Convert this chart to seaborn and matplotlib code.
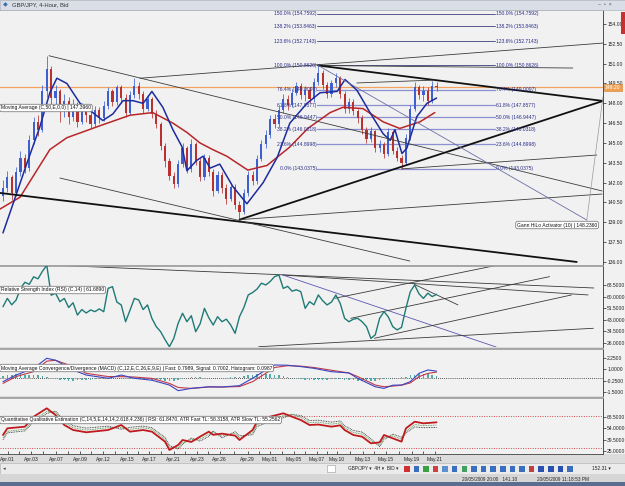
import numpy as np
import seaborn as sns
import matplotlib.pyplot as plt
from matplotlib.patches import Rectangle

sns.set_style("white")
plt.rcParams['font.family'] = ['Liberation Sans', 'DejaVu Sans']

# ---- price data (4h candles, bar index 0..99) ----
open_ = [141.0, 141.6, 142.4, 141.2, 142.8, 143.9, 143.1, 145.2, 146.6, 146.0,
         148.9, 150.6, 148.4, 148.9, 147.4, 148.2, 147.0, 147.9, 146.6, 147.6,
         147.1, 146.4, 147.5, 146.9, 147.8, 148.9, 148.1, 149.2, 148.4, 147.3,
         148.6, 149.3, 148.7, 147.6, 148.3, 147.2, 146.4, 144.8, 143.6, 142.5,
         141.9, 143.4, 144.6, 143.0, 144.9, 143.6, 142.4, 143.9, 142.8, 141.4,
         142.6, 141.6, 140.8, 141.7, 140.3, 139.8, 141.2, 142.6, 142.1, 143.8,
         144.9, 145.6, 146.8, 146.4, 147.5, 148.3, 147.9, 148.8, 149.3, 148.6,
         149.0, 148.3, 149.6, 150.3, 149.4, 148.7, 149.5, 149.9, 148.7, 147.6,
         148.1, 147.4, 146.9, 146.0, 145.3, 145.9, 144.6, 144.9, 144.2, 145.8,
         144.4, 143.9, 143.5, 145.4, 147.6, 149.2, 148.6, 148.9, 148.2, 149.3]
close = [141.6, 142.4, 141.2, 142.8, 143.9, 143.1, 145.2, 146.6, 146.0, 148.9,
         150.6, 148.4, 148.9, 147.4, 148.2, 147.0, 147.9, 146.6, 147.6, 147.1,
         146.4, 147.5, 146.9, 147.8, 148.9, 148.1, 149.2, 148.4, 147.3, 148.6,
         149.3, 148.7, 147.6, 148.3, 147.2, 146.4, 144.8, 143.6, 142.5, 141.9,
         143.4, 144.6, 143.0, 144.9, 143.6, 142.4, 143.9, 142.8, 141.4, 142.6,
         141.6, 140.8, 141.7, 140.3, 139.8, 141.2, 142.6, 142.1, 143.8, 144.9,
         145.6, 146.8, 146.4, 147.5, 148.3, 147.9, 148.8, 149.3, 148.6, 149.0,
         148.3, 149.6, 150.3, 149.4, 148.7, 149.5, 149.9, 148.7, 147.6, 148.1,
         147.4, 146.9, 146.0, 145.3, 145.9, 144.6, 144.9, 144.2, 145.8, 144.4,
         143.9, 143.5, 145.4, 147.6, 149.2, 148.6, 148.9, 148.2, 149.3, 149.2]
high = [142.2, 142.9, 142.6, 143.2, 144.4, 144.2, 145.6, 147.0, 147.1, 149.4,
        151.6, 150.8, 149.4, 149.1, 148.7, 148.5, 148.3, 148.1, 148.0, 147.9,
        147.4, 147.8, 147.7, 148.2, 149.2, 149.1, 149.4, 149.4, 148.7, 148.9,
        149.9, 149.6, 148.9, 148.6, 148.5, 147.5, 146.6, 145.0, 143.9, 142.8,
        143.7, 145.0, 144.8, 145.3, 145.1, 143.9, 144.2, 144.1, 143.0, 142.9,
        142.8, 141.9, 142.0, 141.9, 140.6, 141.5, 142.9, 142.9, 144.1, 145.2,
        146.0, 147.1, 147.2, 147.8, 148.7, 148.6, 149.1, 149.6, 149.5, 149.3,
        149.2, 149.9, 150.86, 150.5, 149.6, 149.8, 150.3, 150.1, 148.9, 148.4,
        148.3, 147.6, 147.1, 146.2, 146.2, 146.0, 145.2, 145.1, 146.1, 146.0,
        144.7, 144.1, 145.7, 147.9, 149.6, 149.4, 149.3, 149.2, 149.7, 149.6]
low = [140.6, 141.3, 140.7, 141.0, 142.5, 142.7, 142.9, 144.9, 145.5, 145.8,
       148.5, 147.8, 147.6, 146.6, 147.0, 146.4, 146.7, 146.2, 146.4, 146.6,
       146.1, 146.2, 146.5, 146.7, 147.6, 147.8, 147.9, 148.0, 147.0, 147.1,
       148.4, 148.3, 147.3, 147.4, 146.9, 146.1, 144.5, 143.2, 142.2, 141.6,
       141.7, 143.2, 142.7, 142.8, 143.3, 142.1, 142.2, 142.5, 141.0, 141.2,
       141.2, 140.4, 140.6, 140.0, 139.2, 139.6, 141.0, 141.8, 141.9, 143.6,
       144.6, 145.4, 146.1, 146.2, 147.3, 147.5, 147.7, 148.6, 148.3, 148.2,
       148.0, 148.1, 149.4, 149.1, 148.4, 148.5, 149.2, 148.4, 147.3, 147.3,
       147.1, 146.5, 145.7, 145.0, 145.1, 144.3, 144.3, 143.9, 144.0, 144.2,
       143.6, 143.04, 143.3, 145.2, 147.4, 148.3, 148.2, 147.9, 148.0, 148.9]

# Gann HiLo (blue) and MA 50 (red), read at these bar positions
gann_bar = [0, 2.3, 5.5, 8.4, 10.7, 12.3, 14.6, 17.6, 20.5, 22.8, 25.1, 27.4, 29.7, 32.0,
            34.0, 36.5, 38.8, 40.9, 42.0, 44.3, 45.7, 47.3, 49.5, 52.5, 55.7, 59.4, 62.6,
            65.5, 69.4, 72.4, 76.3, 78.1, 80.8, 83.8, 86.8, 88.4, 89.5, 91.1, 92.2, 94.5,
            96.8, 99.0]
gann = [138.2, 140.4, 143.5, 146.2, 148.8, 149.9, 149.5, 148.0, 147.3, 146.7, 147.2,
        148.2, 148.2, 148.0, 148.9, 147.7, 146.0, 144.7, 142.9, 143.7, 144.0, 143.1,
        143.4, 141.7, 140.4, 142.0, 143.9, 146.5, 148.0, 148.8, 148.9, 149.8, 149.0,
        147.3, 145.7, 145.2, 146.0, 144.2, 144.6, 147.0, 148.0, 148.4]
ma_bar = [-0.7, 3.9, 10.7, 14.6, 22.1, 29.0, 34.2, 38.8, 42.0, 45.0, 47.9, 51.1, 55.9,
          60.3, 65.5, 69.6, 74.7, 77.6, 82.2, 86.8, 90.6, 95.2, 98.6]
ma50 = [140.0, 140.9, 144.5, 145.4, 146.3, 147.1, 147.3, 146.5, 145.8, 145.0, 144.5,
        144.0, 142.95, 143.3, 144.7, 146.1, 147.3, 147.7, 147.6, 146.6, 146.1, 146.6, 147.3]

fib_pct = ["150.0%", "138.2%", "123.6%", "100.0%", "76.4%", "61.8%", "50.0%", "38.2%", "23.6%", "0.0%"]
fib_price = [154.7592, 153.8463, 152.7143, 150.8626, 149.0097, 147.8577, 146.9447,
             146.0318, 144.8998, 143.0375]

# trend lines: bar0, price0, bar1, price1, kind
trend_lines = [
    (10.5, 151.6, 136.8, 141.37, 'thin'),
    (31.3, 149.9, 137.0, 152.56, 'thin'),
    (72.0, 150.86, 130.1, 150.67, 'thin'),
    (72.0, 150.86, 137.0, 148.18, 'thick'),
    (80.8, 149.54, 98.6, 149.76, 'thin'),
    (54.0, 139.2, 137.0, 148.18, 'thick'),
    (-0.7, 141.22, 131.0, 136.0, 'thick'),
    (13.0, 142.35, 92.9, 136.07, 'thin'),
    (54.0, 139.2, 136.8, 141.14, 'thin'),
    (91.0, 143.04, 135.6, 144.09, 'thin'),
    (72.0, 150.86, 133.3, 139.17, 'fib'),
    (133.3, 139.17, 137.0, 148.5, 'faint'),
]

# ---- RSI ----
rsi = [52.6, 58.7, 54.0, 57.5, 66.0, 70.5, 69.0, 74.5, 73.0, 78.5,
       83.0, 61.0, 62.5, 56.3, 58.7, 52.0, 55.5, 46.5, 50.5, 48.0,
       50.2, 49.0, 51.0, 48.9, 66.0, 67.3, 56.0, 53.9, 41.6, 50.0,
       58.7, 57.5, 50.5, 53.9, 44.1, 38.0, 34.3, 28.5, 23.3, 29.4,
       40.5, 47.8, 41.6, 46.0, 34.3, 40.0, 51.4, 44.5, 39.2, 45.3,
       41.6, 43.5, 39.2, 33.1, 45.3, 52.0, 61.2, 63.0, 65.5, 69.8,
       68.5, 71.0, 74.6, 75.8, 66.0, 67.5, 64.0, 65.0, 63.6, 51.4,
       56.3, 54.0, 61.2, 57.0, 53.9, 56.0, 61.2, 55.0, 44.1, 41.6,
       43.5, 44.1, 41.6, 38.0, 29.4, 32.0, 44.1, 49.0, 45.0, 38.0,
       35.6, 37.5, 51.4, 63.6, 68.5, 62.0, 58.7, 62.5, 60.0, 61.7]
rsi_lines = [
    (10.3, 83.2, 134.9, 66.3, 'k'),
    (63.9, 75.8, 133.6, 61.2, 'k'),
    (63.9, 75.8, 112.6, 23.1, 'b'),
    (75.8, 58.8, 113.0, 83.1, 'k'),
    (79.4, 44.1, 124.8, 74.6, 'k'),
    (84.8, 29.5, 129.8, 61.2, 'k'),
    (58.4, 23.3, 134.8, 36.8, 'k'),
    (93.9, 69.0, 103.9, 53.9, 'k'),
]

# ---- MACD ----
macd_bar = [0, 3, 7, 10, 12, 16, 19, 24, 27, 30, 34, 38, 40, 43, 47, 50, 54, 57, 60, 62,
            65, 68, 71, 75, 79, 81, 85, 87, 89, 91, 93, 95, 97, 99]
macd_fast = [-0.36, 0.37, 1.11, 2.22, 2.0, 0.93, 0.37, 0.01, 0.37, 0.01, -0.2, -0.73,
             -1.35, -1.1, -0.92, -0.95, -0.8, 0.01, 0.93, 1.48, 1.45, 1.3, 1.11, 0.74,
             0.6, 0.0, -0.92, -1.1, -0.75, -0.73, -0.36, 0.56, 0.93, 0.80]
macd_signal = [-0.55, 0.2, 0.75, 1.9, 2.0, 1.3, 0.56, 0.2, 0.19, 0.15, 0.0, -0.55, -1.0,
               -1.1, -0.95, -0.95, -0.9, -0.36, 0.56, 1.2, 1.4, 1.35, 1.2, 0.9, 0.6, 0.2,
               -0.73, -0.92, -0.85, -0.75, -0.5, 0.2, 0.55, 0.70]
macd_hist = [0.30, 0.38, 0.42, 0.45, 0.44, 0.42, 0.40, 0.38, 0.35, 0.30,
             0.15, 0.0, -0.10,
             -0.18, -0.22, -0.25, -0.25, -0.22, -0.20, -0.18, -0.15, -0.12, -0.10,
             -0.08, -0.05, 0.05, 0.08, 0.06,
             0.03, -0.03, -0.05, -0.08, -0.10, -0.12, -0.15, -0.18,
             -0.22, -0.25, -0.28, -0.25, -0.20, -0.12, 0.05, 0.15, 0.18, 0.12,
             0.08, 0.05, 0.02, 0.0, 0.05, 0.08, 0.10, 0.12, 0.18, 0.25,
             0.32, 0.40, 0.45, 0.48, 0.50, 0.48, 0.42, 0.35, 0.25, 0.15, 0.05,
             -0.05, -0.10, -0.15, -0.18, -0.20, -0.20, -0.18, -0.15, -0.12, -0.10,
             -0.12, -0.15, -0.18, -0.22,
             -0.25, -0.28, -0.30, -0.28, -0.25, -0.20, -0.12, -0.05, 0.02, 0.05,
             0.10, 0.20, 0.32, 0.42, 0.48, 0.50, 0.45, 0.38, 0.30]

# ---- QQE ----
qqe_bar = [0, 1, 5, 7, 10, 12, 14, 16, 19, 24, 27, 29, 32, 34, 37, 38, 40, 41, 43, 45,
           47, 48, 50, 53, 54, 57, 58, 61, 64, 66, 68, 70, 72, 75, 77, 78, 80, 82, 84,
           86, 87, 89, 91, 92, 94, 96, 99]
qqe_rsi = [45.8, 54.2, 56.3, 68.9, 79.5, 71.0, 58.4, 52.1, 49.2, 52.1, 58.4, 50.0, 52.1,
           50.0, 37.4, 26.9, 33.2, 39.5, 37.0, 43.7, 50.0, 46.0, 47.5, 45.0, 39.5, 52.1,
           62.6, 68.9, 73.2, 68.9, 64.7, 58.4, 59.0, 56.3, 58.0, 52.1, 45.8, 43.7, 35.3,
           36.5, 45.8, 41.6, 37.4, 54.2, 62.6, 60.5, 61.8]
qqe_fast = [42.5, 50.5, 53.0, 65.0, 75.5, 74.0, 61.5, 55.0, 52.0, 55.0, 55.0, 53.0, 55.0,
            53.0, 40.5, 30.0, 30.0, 36.0, 40.0, 40.5, 46.5, 49.0, 44.5, 48.0, 42.5, 48.5,
            59.0, 65.5, 70.0, 72.0, 68.0, 61.5, 62.0, 59.5, 61.0, 55.0, 49.0, 47.0, 38.5,
            33.5, 42.5, 44.5, 40.5, 50.5, 59.0, 57.5, 58.3]
qqe_slow = [40.0, 48.5, 51.0, 62.5, 73.0, 76.0, 64.0, 57.5, 54.5, 57.0, 53.0, 55.5, 57.0,
            55.0, 43.0, 32.5, 28.0, 34.0, 42.0, 38.0, 44.0, 51.0, 42.0, 50.0, 45.0, 46.0,
            56.5, 63.0, 67.5, 71.5, 70.5, 64.0, 64.5, 62.0, 63.5, 57.5, 51.5, 49.5, 41.0,
            31.0, 40.0, 47.0, 43.0, 48.0, 56.0, 55.0, 55.3]

date_labels = ["Apr.01", "Apr.03", "Apr.07", "Apr.09", "Apr.12", "Apr.15", "Apr.17",
               "Apr.21", "Apr.23", "Apr.26", "Apr.29", "May.01", "May.05", "May.07",
               "May.10", "May.13", "May.15", "May.19", "May.21"]
date_pos = [1.1, 6.4, 12.1, 17.6, 22.8, 28.3, 33.3, 39.0, 44.3, 49.5, 55.9, 61.0, 66.4,
            71.7, 76.3, 82.2, 87.4, 93.4, 98.6]

price_ticks = [136.0, 137.5, 139.0, 140.5, 142.0, 143.5, 145.0, 146.5, 148.0, 149.5,
               151.0, 152.5, 154.0]
rsi_ticks = [26.0, 34.5, 43.0, 51.5, 60.0, 68.5]
macd_ticks = [-1.5, -0.25, 1.0, 2.25]
qqe_ticks = [25.0, 39.5, 54.0, 68.5]

# ---- layout ----
W, H = 625, 486
BG = '#f1f1f1'
XMIN, XMAX = -0.68, 137.0
FS = 3.6

fig = plt.figure(figsize=(W / 100, H / 100), dpi=100, facecolor='#dcdcdc')


def panel(top, bottom):
    return fig.add_axes([0, 1 - bottom / H, 603 / W, (bottom - top) / H])


def style(ax, ylim, ticks, fmt):
    ax.set_facecolor(BG)
    ax.set_xlim(XMIN, XMAX)
    ax.set_ylim(*ylim)
    ax.yaxis.tick_right()
    ax.set_yticks(ticks)
    ax.set_yticklabels([fmt.format(t) for t in ticks])
    ax.tick_params(axis='y', direction='out', length=2, width=0.5, pad=1,
                   labelsize=FS, colors='#222222')
    ax.tick_params(axis='x', bottom=False, labelbottom=False)
    ax.spines['left'].set_visible(False)
    ax.spines['bottom'].set_visible(False)
    ax.spines['right'].set_color('#333333')
    ax.spines['right'].set_linewidth(0.6)
    ax.spines['top'].set_color('#9a9a9a')
    ax.spines['top'].set_linewidth(1.2)
    ax.set_xlabel('')
    ax.set_ylabel('')


def fx(px):
    return px / W


def fy(py):
    return 1 - py / H


box = dict(boxstyle='round,pad=0.25,rounding_size=0.4', fc='white', ec='#6a6a6a', lw=0.5)

# background strip right of axes
fig.add_artist(Rectangle((fx(603), fy(454)), fx(22), 444 / H, transform=fig.transFigure,
                         fc=BG, ec='none', zorder=-5))

# ---- main price panel ----
ax = panel(10, 265)
bars = np.arange(len(close))
o = np.array(open_)
c = np.array(close)
up = c >= o
col = np.where(up, '#3d5fd0', '#b8312f')
ax.axhline(149.2, color='#f3a35f', lw=0.9, zorder=1)
ax.vlines(bars, low, high, colors=col, lw=0.55, zorder=3)
ax.bar(bars, np.where(np.abs(c - o) < 0.05, 0.05, c - o), bottom=o, width=0.5,
       color=col, lw=0, zorder=3)
sns.lineplot(x=ma_bar, y=ma50, ax=ax, color='#b8262a', lw=1.1, zorder=4)
sns.lineplot(x=gann_bar, y=gann, ax=ax, color='#1d2c9c', lw=1.1, zorder=4)

for x0, y0, x1, y1, kind in trend_lines:
    if kind == 'thick':
        ax.plot([x0, x1], [y0, y1], color='#111111', lw=1.3, zorder=5)
    elif kind == 'fib':
        ax.plot([x0, x1], [y0, y1], color='#6a6fa8', lw=0.6, zorder=5)
    elif kind == 'faint':
        ax.plot([x0, x1], [y0, y1], color='#9a9a9a', lw=0.5, zorder=5)
    else:
        ax.plot([x0, x1], [y0, y1], color='#3c3c3c', lw=0.6, zorder=5)

fib_left, fib_right = 71.8, 112.4
for pct, lvl in zip(fib_pct, fib_price):
    lw_f, c_f = (0.6, '#3c3f7a') if lvl > 150 else (0.9, '#8a90d0')
    ax.plot([fib_left, fib_right], [lvl, lvl], color=c_f, lw=lw_f, zorder=2)
    lab = f"{pct} ({lvl:.4f})"
    ax.text(fib_left - 0.2, lvl, lab, ha='right', va='center', fontsize=FS,
            color='#2b2f8c', zorder=6)
    ax.text(fib_right + 0.2, lvl, lab, ha='left', va='center', fontsize=FS,
            color='#2b2f8c', zorder=6)

style(ax, (135.77, 155.06), price_ticks, '{:.2f}')
ax.text(1.003, 149.2, '149.20', transform=ax.get_yaxis_transform(), ha='left',
        va='center', fontsize=FS, color='white', zorder=10,
        bbox=dict(boxstyle='square,pad=0.25', fc='#f0a050', ec='#d08030', lw=0.4),
        clip_on=False)
fig.text(fx(1), fy(108), 'Moving Average (C,50,E,0,0) | 147.3960', fontsize=FS,
         va='center', ha='left', color='#111111', bbox=box, zorder=10)
fig.text(fx(517), fy(225), 'Gann HiLo Activator (10) | 148.2360', fontsize=FS,
         va='center', ha='left', color='#111111', bbox=box, zorder=10)

# ---- RSI panel ----
ax_r = panel(266, 347)
for x0, y0, x1, y1, kind in rsi_lines:
    ax_r.plot([x0, x1], [y0, y1], color='#3a3a3a' if kind == 'k' else '#5a55b0',
              lw=0.6, zorder=2)
sns.lineplot(x=bars, y=rsi, ax=ax_r, color='#1f7a76', lw=1.0, zorder=3)
style(ax_r, (23.1, 82.4), rsi_ticks, '{:.4f}')
fig.text(fx(1), fy(290), 'Relative Strength Index (RSI) (C,14) | 61.6890', fontsize=FS,
         va='center', ha='left', color='#111111', bbox=box, zorder=10)

# ---- MACD panel ----
ax_m = panel(349, 396)
ax_m.axhline(0, color='#222222', lw=0.6, ls=(0, (1, 1.5)), zorder=1)
ax_m.bar(bars, macd_hist, width=0.35, color='#55a9a9', lw=0, zorder=2)
sns.lineplot(x=macd_bar, y=macd_signal, ax=ax_m, color='#c03a4a', lw=0.8, zorder=3)
sns.lineplot(x=macd_bar, y=macd_fast, ax=ax_m, color='#3a44c0', lw=0.8, zorder=3)
style(ax_m, (-1.94, 3.24), macd_ticks, '{:.4f}')
fig.text(fx(1), fy(368),
         'Moving Average Convergence/Divergence (MACD) (C,12,E,C,26,E,9,E) | Fast: 0.7989, '
         'Signal: 0.7002, Histogram: 0.0987', fontsize=FS, va='center', ha='left',
         color='#111111', bbox=box, zorder=10)

# ---- QQE panel ----
ax_q = panel(398, 454)
for lvl in (70, 30):
    ax_q.axhline(lvl, color='#d04848', lw=0.7, ls=(0, (1, 1.5)), zorder=1)
sns.lineplot(x=qqe_bar, y=qqe_slow, ax=ax_q, color='#222222', lw=0.6,
             ls=(0, (1, 1)), zorder=2)
sns.lineplot(x=qqe_bar, y=qqe_fast, ax=ax_q, color='#3a8a3a', lw=0.6,
             ls=(0, (1, 1)), zorder=2)
sns.lineplot(x=qqe_bar, y=qqe_rsi, ax=ax_q, color='#c01a1e', lw=1.3, zorder=3)
style(ax_q, (21.8, 92.5), qqe_ticks, '{:.4f}')
ax_q.spines['bottom'].set_visible(True)
ax_q.spines['bottom'].set_color('#444444')
ax_q.spines['bottom'].set_linewidth(0.6)
ax_q.set_xticks(date_pos)
ax_q.set_xticklabels(date_labels)
ax_q.set_xticks([(a + b) / 2 for a, b in zip(date_pos[:-1], date_pos[1:])], minor=True)
ax_q.tick_params(axis='x', which='both', bottom=True, labelbottom=True, direction='in',
                 length=2.5, width=0.5, labelsize=FS, pad=2.5, colors='#222222')
fig.text(fx(1), fy(420),
         'Quantitative Qualitative Estimation (C,14,5,E,14,14,2.618,4.236) | RSI: 61.8470, '
         'ATR Fast TL: 58.3158, ATR Slow TL: 55.2562', fontsize=FS, va='center',
         ha='left', color='#111111', bbox=box, zorder=10)

# ---- window chrome ----
fig.add_artist(Rectangle((0, fy(10)), 1, 10 / H, transform=fig.transFigure,
                         fc='#d9dee7', ec='#b0b6c0', lw=0.5))
fig.text(fx(3), fy(5), '\u25c6', fontsize=4.5, color='#3a70b0', va='center')
fig.text(fx(12), fy(5), 'GBP/JPY, 4-Hour, Bid', fontsize=4.2, color='#333333', va='center')
fig.text(fx(598), fy(5), '\u2013  \u25ab  \u00d7', fontsize=3.8, color='#555555', va='center')
fig.add_artist(Rectangle((fx(621), fy(34)), fx(4), 22 / H, transform=fig.transFigure,
                         fc='#c83030', ec='none'))
fig.add_artist(Rectangle((0, fy(474)), 1, 11 / H, transform=fig.transFigure,
                         fc='#ebebeb', ec='#b8b8b8', lw=0.5))
fig.text(fx(3), fy(468.5), '\u25c2', fontsize=3.8, color='#444444', va='center')
fig.add_artist(Rectangle((fx(327), fy(472)), fx(8), 7 / H, transform=fig.transFigure,
                         fc='white', ec='#999999', lw=0.4))
fig.text(fx(348), fy(468.5), 'GBP/JPY \u25be  4H \u25be  BID \u25be', fontsize=3.4,
         color='#222222', va='center')
icon_cols = ['#d03030', '#3a6fc0', '#3aa040', '#d04040', '#5a8fd0', '#3a6fc0', '#40a060',
             '#3a6fc0', '#3a6fc0', '#3a6fc0', '#3a6fc0', '#3a6fc0', '#3a6fc0', '#c04040',
             '#2a50b0', '#2a50b0', '#2a50b0', '#3a6fc0']
for k, ic in enumerate(icon_cols):
    fig.add_artist(Rectangle((fx(404 + k * 9.6), fy(472)), fx(5.5), 6.5 / H,
                             transform=fig.transFigure, fc=ic, ec='none'))
fig.text(fx(592), fy(468.5), '152.31 \u25be', fontsize=3.5, color='#222222', va='center')
fig.add_artist(Rectangle((0, 0), 1, 12 / H, transform=fig.transFigure,
                         fc='#d6d6d6', ec='none'))
fig.text(fx(462), fy(479), '20/05/2009 20:00   141.10', fontsize=3.4, color='#222222',
         va='center')
fig.text(fx(537), fy(479), '20/05/2009 11:18:53 PM', fontsize=3.4, color='#222222',
         va='center')
fig.add_artist(Rectangle((0, 0), 1, 4 / H, transform=fig.transFigure,
                         fc='#5a6f8f', ec='none'))

fig.savefig('out.png', dpi=100, facecolor=fig.get_facecolor())
